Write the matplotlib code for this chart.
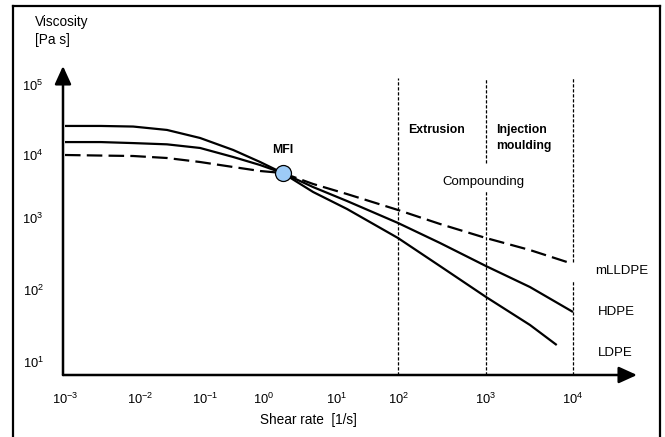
import numpy as np
import matplotlib
matplotlib.use('Agg')
import matplotlib.pyplot as plt
from matplotlib.lines import Line2D
from matplotlib.ticker import FixedLocator, NullLocator

plt.rcParams['font.family'] = ['Liberation Sans', 'DejaVu Sans']
plt.rcParams['mathtext.fontset'] = 'custom'
plt.rcParams['mathtext.rm'] = 'Liberation Sans'
plt.rcParams['mathtext.it'] = 'Liberation Sans:italic'
plt.rcParams['mathtext.bf'] = 'Liberation Sans:bold'

# ---------------- data ----------------
shear_ldpe = [0.001, 0.003, 0.0081, 0.026, 0.084, 0.30, 0.86, 1.8, 4.7, 14.6, 100, 300, 1000, 3200, 6500]
visc_ldpe = [26000, 26000, 25500, 22800, 17500, 11800, 7740, 5180, 2590, 1390, 527, 215, 80, 32.7, 17.2]

shear_hdpe = [0.001, 0.003, 0.0081, 0.026, 0.084, 0.30, 0.86, 1.8, 4.7, 14.6, 100, 300, 1000, 3200, 10000]
visc_hdpe = [15300, 15300, 14800, 14200, 12600, 9300, 6930, 5180, 3100, 1860, 853, 450, 215, 110, 49.5]

shear_mlldpe = [0.001, 0.003, 0.0081, 0.026, 0.084, 0.30, 0.86, 1.8, 4.7, 14.6, 100, 300, 1000, 3200, 8500]
visc_mlldpe = [10000, 9800, 9640, 8960, 7740, 6450, 5570, 5180, 3470, 2400, 1340, 826, 527, 359, 245]

mfi_shear = [1.8]
mfi_visc = [5180]

process_limits = [100, 1000, 10000]

x_ticks = [1e-3, 1e-2, 1e-1, 1e0, 1e1, 1e2, 1e3, 1e4]
x_ticklabels = [r'$10^{-3}$', r'$10^{-2}$', r'$10^{-1}$', r'$10^{0}$',
                r'$10^{1}$', r'$10^{2}$', r'$10^{3}$', r'$10^{4}$']
y_ticks = [1e1, 1e2, 1e3, 1e4, 1e5]
y_ticklabels = [r'$10^{1}$', r'$10^{2}$', r'$10^{3}$', r'$10^{4}$', r'$10^{5}$']

# ---------------- layout: schematic (non-uniform) decade spacing ----------------
W, H = 665, 437
DEC_X = [-4, -3, -2, -1, 0, 1, 2, 3, 4, 5]
PX_X = [-10, 65, 140, 205, 264, 337, 398, 486, 573, 660]
DEC_Y = [0, 1, 2, 3, 4, 5, 6]
PY_Y = [434, 362, 290, 218, 155, 85, 15]
NPY_Y = [-p for p in PY_Y]


def fwd_x(v):
    v = np.clip(np.asarray(v, dtype=float), 1e-300, None)
    return np.interp(np.log10(v), DEC_X, PX_X)


def inv_x(u):
    return 10 ** np.interp(np.asarray(u, dtype=float), PX_X, DEC_X)


def fwd_y(v):
    v = np.clip(np.asarray(v, dtype=float), 1e-300, None)
    return np.interp(np.log10(v), DEC_Y, NPY_Y)


def inv_y(u):
    return 10 ** np.interp(np.asarray(u, dtype=float), NPY_Y, DEC_Y)


def fx(px):
    return px / W


def fy(py):
    return 1 - py / H


fig = plt.figure(figsize=(W / 100, H / 100), dpi=100)
ax_l, ax_r, ax_b, ax_t = 63, 637, 375, 66
ax = fig.add_axes([fx(ax_l), fy(ax_b), fx(ax_r) - fx(ax_l), fy(ax_t) - fy(ax_b)])
ax.set_xscale('function', functions=(fwd_x, inv_x))
ax.set_yscale('function', functions=(fwd_y, inv_y))
ax.set_xlim(float(inv_x(ax_l)), float(inv_x(ax_r)))
ax.set_ylim(float(inv_y(-ax_b)), float(inv_y(-ax_t)))

for s in ax.spines.values():
    s.set_visible(False)
ax.patch.set_alpha(0)

ax.xaxis.set_major_locator(FixedLocator(x_ticks))
ax.set_xticklabels(x_ticklabels)
ax.yaxis.set_major_locator(FixedLocator(y_ticks))
ax.set_yticklabels(y_ticklabels)
ax.xaxis.set_minor_locator(NullLocator())
ax.yaxis.set_minor_locator(NullLocator())
ax.tick_params(axis='both', length=0, labelsize=9.3)
ax.tick_params(axis='x', pad=12)
ax.tick_params(axis='y', pad=14)

# axes arrows
arrow_kw = dict(arrowstyle='-|>,head_length=1.1,head_width=0.5', lw=1.8, color='black',
                shrinkA=0, shrinkB=0, mutation_scale=10)
ax.annotate('', xy=(1, 0), xytext=(0, 0), xycoords='axes fraction', arrowprops=arrow_kw)
ax.annotate('', xy=(0, 1), xytext=(0, 0), xycoords='axes fraction', arrowprops=arrow_kw)

# process window dashed verticals
hgt = ax_b - ax_t
top_frac = (ax_b - 78) / hgt
dash_kw = dict(color='black', lw=0.9, linestyle=(0, (2.6, 1.4)))
ax.axvline(process_limits[0], ymin=0, ymax=top_frac, **dash_kw)
ax.axvline(process_limits[1], ymin=0, ymax=(ax_b - 190) / hgt, **dash_kw)
ax.axvline(process_limits[1], ymin=(ax_b - 163) / hgt, ymax=top_frac, **dash_kw)
ax.axvline(process_limits[2], ymin=0, ymax=(ax_b - 281) / hgt, **dash_kw)
ax.axvline(process_limits[2], ymin=(ax_b - 262) / hgt, ymax=top_frac, **dash_kw)

# curves
ax.plot(shear_ldpe, visc_ldpe, color='black', lw=1.6, solid_capstyle='butt', solid_joinstyle='round')
ax.plot(shear_hdpe, visc_hdpe, color='black', lw=1.6, solid_capstyle='butt', solid_joinstyle='round')
ax.plot(shear_mlldpe, visc_mlldpe, color='black', lw=1.6, linestyle=(0, (7, 2.8)))
ax.plot(mfi_shear, mfi_visc, 'o', markersize=11.5, markerfacecolor='#9DCBF7',
        markeredgecolor='black', markeredgewidth=0.9, zorder=5)

# texts
fig.text(fx(283), fy(150), 'MFI', ha='center', va='center', fontsize=8.8, fontweight='bold')
fig.text(fx(408), fy(130), 'Extrusion', ha='left', va='center', fontsize=8.8, fontweight='bold')
fig.text(fx(496), fy(138), 'Injection\nmoulding', ha='left', va='center', fontsize=8.8,
         fontweight='bold', linespacing=1.35)
fig.text(fx(483), fy(182), 'Compounding', ha='center', va='center', fontsize=9.5)
fig.text(fx(595), fy(271), 'mLLDPE', ha='left', va='center', fontsize=9.5)
fig.text(fx(598), fy(312), 'HDPE', ha='left', va='center', fontsize=9.5)
fig.text(fx(598), fy(353), 'LDPE', ha='left', va='center', fontsize=9.5)
fig.text(fx(35), fy(31), 'Viscosity\n[Pa s]', ha='left', va='center', fontsize=9.8, linespacing=1.3)
fig.text(fx(308), fy(420), 'Shear rate  [1/s]', ha='center', va='center', fontsize=9.8)

# outer frame (left, top, right)
frame_kw = dict(color='black', lw=1.6, transform=fig.transFigure)
fig.add_artist(Line2D([fx(13), fx(13)], [fy(6), -0.05], **frame_kw))
fig.add_artist(Line2D([fx(13), fx(660)], [fy(6), fy(6)], **frame_kw))
fig.add_artist(Line2D([fx(660), fx(660)], [fy(6), -0.05], **frame_kw))

fig.savefig('out.png', dpi=100)
